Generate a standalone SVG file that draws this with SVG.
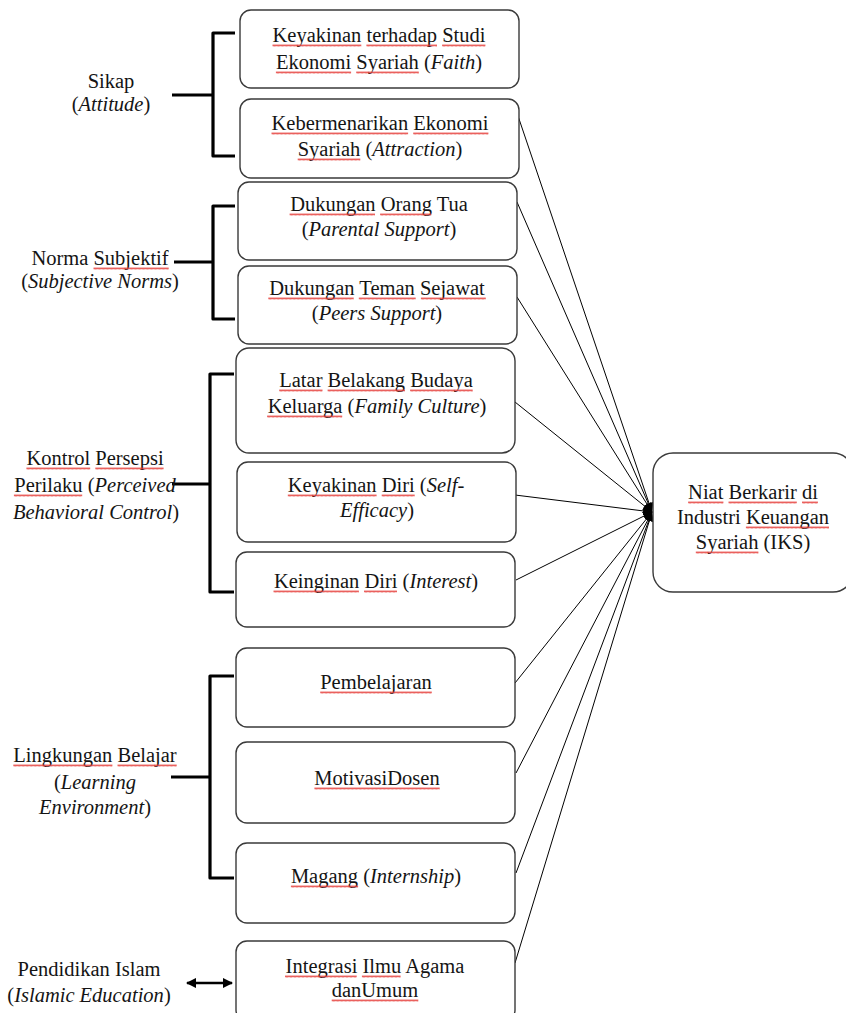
<svg xmlns="http://www.w3.org/2000/svg" width="846" height="1013" viewBox="0 0 846 1013">
<style>
text{font-family:'Liberation Serif','Times New Roman',serif;font-size:20.5px;fill:#141414;text-anchor:middle}
.i{font-style:italic}
.box{fill:#fff;stroke:#3a3a3a;stroke-width:1.4}
.br{fill:none;stroke:#000;stroke-width:3.2;stroke-linejoin:round}
.cn{fill:none;stroke:#000;stroke-width:1}
.sq rect{fill:url(#wave)}
</style>
<defs>
<pattern id="wave" width="4" height="3" patternUnits="userSpaceOnUse">
<path d="M0,2.5 L1,0.5 L2,2.5 L3,0.5 L4,2.5" fill="none" stroke="#e53935" stroke-width="0.8"/>
</pattern>
<marker id="ah" viewBox="0 0 10 10" refX="10" refY="5" markerWidth="9" markerHeight="9" markerUnits="userSpaceOnUse" orient="auto">
<path d="M0,0 L10,5 L0,10 z" fill="#000"/>
</marker>
<marker id="ah2" viewBox="0 0 10 10" refX="9" refY="5" markerWidth="4" markerHeight="4" orient="auto-start-reverse">
<path d="M0,0 L10,5 L0,10 z" fill="#000"/>
</marker>
</defs>
<rect width="846" height="1013" fill="#fff"/>

<g id="connectors">
<line class="cn" x1="517" y1="113" x2="652" y2="512" marker-end="url(#ah)"/>
<line class="cn" x1="517" y1="202" x2="652" y2="512" marker-end="url(#ah)"/>
<line class="cn" x1="517" y1="297" x2="652" y2="512" marker-end="url(#ah)"/>
<line class="cn" x1="515" y1="402" x2="652" y2="512" marker-end="url(#ah)"/>
<line class="cn" x1="515" y1="495" x2="652" y2="512" marker-end="url(#ah)"/>
<line class="cn" x1="516" y1="580" x2="652" y2="512" marker-end="url(#ah)"/>
<line class="cn" x1="515" y1="683" x2="652" y2="512" marker-end="url(#ah)"/>
<line class="cn" x1="516" y1="773" x2="652" y2="512" marker-end="url(#ah)"/>
<line class="cn" x1="516" y1="873" x2="652" y2="512" marker-end="url(#ah)"/>
<line class="cn" x1="515" y1="963" x2="652" y2="512" marker-end="url(#ah)"/>
<path class="br" d="M235,33 H213 V156 H235 M172,95 H213"/>
<path class="br" d="M235,206 H213 V319 H235 M174,262 H213"/>
<path class="br" d="M234,374 H210 V592 H234 M172,484 H210"/>
<path class="br" d="M234,676 H210 V878 H234 M171,777 H210"/>
<line x1="187" y1="983" x2="232" y2="983" stroke="#000" stroke-width="2.6" marker-start="url(#ah2)" marker-end="url(#ah2)"/>
</g>

<g id="sikap">
<text x="111" y="88">Sikap</text>
<text x="111" y="111">(<tspan class="i">Attitude</tspan>)</text>
</g>
<g id="norma">
<text x="100" y="265">Norma Subjektif</text>
<text x="100" y="288">(<tspan class="i">Subjective Norms</tspan>)</text>
</g>
<g id="kontrol">
<text x="95" y="465">Kontrol Persepsi</text>
<text x="95" y="492">Perilaku (<tspan class="i">Perceived</tspan></text>
<text x="96" y="519"><tspan class="i">Behavioral Control</tspan>)</text>
</g>
<g id="lingkungan">
<text x="95" y="762">Lingkungan Belajar</text>
<text x="95" y="789">(<tspan class="i">Learning</tspan></text>
<text x="95" y="814"><tspan class="i">Environment</tspan>)</text>
</g>
<g id="pendidikan">
<text x="89" y="976">Pendidikan Islam</text>
<text x="89" y="1002">(<tspan class="i">Islamic Education</tspan>)</text>
</g>

<g id="b1">
<rect class="box" x="240" y="10" width="279" height="78" rx="11"/>
<text x="379" y="42">Keyakinan terhadap Studi</text>
<text x="379" y="69">Ekonomi Syariah (<tspan class="i">Faith</tspan>)</text>
</g>
<g id="b2">
<rect class="box" x="240" y="99" width="279" height="79" rx="11"/>
<text x="380" y="130">Kebermenarikan Ekonomi</text>
<text x="380" y="156">Syariah (<tspan class="i">Attraction</tspan>)</text>
</g>
<g id="b3">
<rect class="box" x="238" y="182" width="279" height="78" rx="11"/>
<text x="379" y="211">Dukungan Orang Tua</text>
<text x="379" y="236">(<tspan class="i">Parental Support</tspan>)</text>
</g>
<g id="b4">
<rect class="box" x="238" y="266" width="279" height="78" rx="11"/>
<text x="377" y="295">Dukungan Teman Sejawat</text>
<text x="377" y="320">(<tspan class="i">Peers Support</tspan>)</text>
</g>
<g id="b5">
<rect class="box" x="236" y="348" width="279" height="105" rx="13"/>
<text x="376" y="387">Latar Belakang Budaya</text>
<text x="377" y="413">Keluarga (<tspan class="i">Family Culture</tspan>)</text>
</g>
<g id="b6">
<rect class="box" x="237" y="462" width="279" height="80" rx="11"/>
<text x="376" y="492">Keyakinan Diri (<tspan class="i">Self-</tspan></text>
<text x="377" y="517"><tspan class="i">Efficacy</tspan>)</text>
</g>
<g id="b7">
<rect class="box" x="236" y="552" width="279" height="75" rx="11"/>
<text x="376" y="588">Keinginan Diri (<tspan class="i">Interest</tspan>)</text>
</g>
<g id="b8">
<rect class="box" x="236" y="648" width="279" height="79" rx="11"/>
<text x="376" y="689">Pembelajaran</text>
</g>
<g id="b9">
<rect class="box" x="236" y="742" width="279" height="81" rx="11"/>
<text x="377" y="785">MotivasiDosen</text>
</g>
<g id="b10">
<rect class="box" x="236" y="843" width="279" height="80" rx="11"/>
<text x="376" y="883">Magang (<tspan class="i">Internship</tspan>)</text>
</g>
<g id="b11">
<rect class="box" x="236" y="941" width="279" height="80" rx="11"/>
<text x="375" y="973">Integrasi Ilmu Agama</text>
<text x="375" y="997">danUmum</text>
</g>
<g id="iks">
<rect class="box" x="653" y="453" width="200" height="139" rx="20"/>
<text x="753" y="499">Niat Berkarir di</text>
<text x="753" y="524">Industri Keuangan</text>
<text x="753" y="549">Syariah (IKS)</text>
</g>

<g id="spelling-marks" class="sq">
<rect transform="translate(93.5,267)" width="75.2" height="3"/>
<rect transform="translate(26.4,467)" width="63.8" height="3"/>
<rect transform="translate(95.3,467)" width="68.3" height="3"/>
<rect transform="translate(13.9,494)" width="68.3" height="3"/>
<rect transform="translate(13.3,764)" width="99.1" height="3"/>
<rect transform="translate(117.5,764)" width="59.2" height="3"/>
<rect transform="translate(272.5,44)" width="88.8" height="3"/>
<rect transform="translate(366.4,44)" width="70.6" height="3"/>
<rect transform="translate(442.1,44)" width="43.3" height="3"/>
<rect transform="translate(275.9,71)" width="75.2" height="3"/>
<rect transform="translate(356.2,71)" width="62.6" height="3"/>
<rect transform="translate(271.5,132)" width="136.6" height="3"/>
<rect transform="translate(413.2,132)" width="75.2" height="3"/>
<rect transform="translate(297.7,158)" width="62.6" height="3"/>
<rect transform="translate(289.6,213)" width="85.4" height="3"/>
<rect transform="translate(380.1,213)" width="51.2" height="3"/>
<rect transform="translate(268.3,297)" width="85.4" height="3"/>
<rect transform="translate(358.8,297)" width="56.9" height="3"/>
<rect transform="translate(420.9,297)" width="64.9" height="3"/>
<rect transform="translate(279.2,389)" width="43.3" height="3"/>
<rect transform="translate(327.6,389)" width="77.4" height="3"/>
<rect transform="translate(410.1,389)" width="62.6" height="3"/>
<rect transform="translate(267.1,415)" width="75.1" height="3"/>
<rect transform="translate(287.8,494)" width="88.8" height="3"/>
<rect transform="translate(381.7,494)" width="33" height="3"/>
<rect transform="translate(273.5,590)" width="85.4" height="3"/>
<rect transform="translate(364,590)" width="33" height="3"/>
<rect transform="translate(320.2,691)" width="111.6" height="3"/>
<rect transform="translate(314.4,787)" width="125.3" height="3"/>
<rect transform="translate(290.9,885)" width="67.2" height="3"/>
<rect transform="translate(285,975)" width="71.7" height="3"/>
<rect transform="translate(361.9,975)" width="38.7" height="3"/>
<rect transform="translate(331.7,999)" width="86.6" height="3"/>
<rect transform="translate(688.1,501)" width="35.3" height="3"/>
<rect transform="translate(728.5,501)" width="68.3" height="3"/>
<rect transform="translate(802,501)" width="15.9" height="3"/>
<rect transform="translate(745.9,526)" width="83.1" height="3"/>
<rect transform="translate(695.8,551)" width="62.6" height="3"/>
</g>
</svg>
